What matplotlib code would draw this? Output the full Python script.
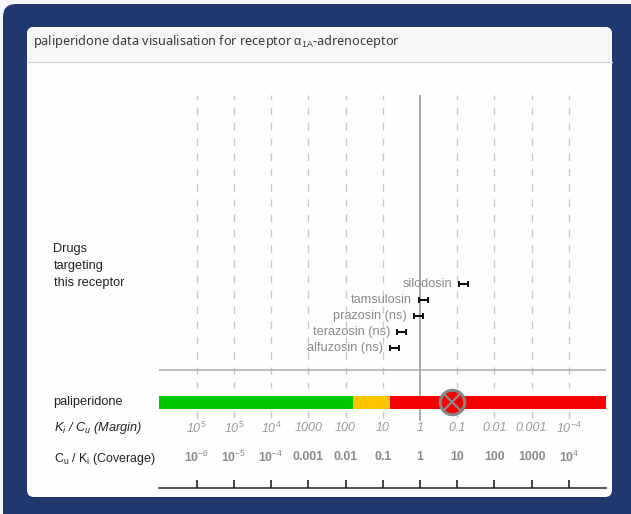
"""Paliperidone margin / coverage chart for the alpha-1A adrenoceptor."""

import matplotlib
matplotlib.use("Agg")
import matplotlib.pyplot as plt
from matplotlib.patches import FancyBboxPatch, Rectangle

# all x values are log10(Cu / Ki)
TICKS = [-6, -5, -4, -3, -2, -1, 0, 1, 2, 3, 4]
MARGIN_LABELS = ["10$^{5}$", "10$^{5}$", "10$^{4}$", "1000", "100", "10", "1", "0.1", "0.01", "0.001", "10$^{-4}$"]
COVERAGE_LABELS = ["10$^{-6}$", "10$^{-5}$", "10$^{-4}$", "0.001", "0.01", "0.1", "1", "10", "100", "1000", "10$^{4}$"]

DRUGS = ["silodosin", "tamsulosin", "prazosin (ns)", "terazosin (ns)", "alfuzosin (ns)"]
DRUG_LOW = [1.05, -0.02, -0.16, -0.62, -0.81]
DRUG_HIGH = [1.29, 0.21, 0.09, -0.38, -0.56]

SEGMENT_EDGES = [-7.0, -1.8, -0.8, 5.0]
SEGMENT_COLORS = ["#00c800", "#fdc500", "#f50000"]
PALIPERIDONE = 0.86

NAVY = "#21386f"
GREY_TEXT = "#8a8a8a"
LABEL_SIZE = 9.15
W, H = 631, 514

plt.rcParams["font.family"] = ["Liberation Sans", "DejaVu Sans"]
plt.rcParams["mathtext.fontset"] = "custom"
plt.rcParams["mathtext.rm"] = "Liberation Sans"
plt.rcParams["mathtext.it"] = "Liberation Sans:italic"
plt.rcParams["mathtext.bf"] = "Liberation Sans:bold"

fig = plt.figure(figsize=(W / 100, H / 100), dpi=100, facecolor="#f6f5fa")

# page furniture in pixel coordinates
bg = fig.add_axes([0, 0, 1, 1])
bg.set_xlim(0, W)
bg.set_ylim(H, 0)
bg.axis("off")
bg.add_patch(FancyBboxPatch((3, 4), W + 30, H + 30, boxstyle="round,pad=0,rounding_size=13",
                            fc=NAVY, ec="none"))
bg.add_patch(FancyBboxPatch((27, 27), 585, 470, boxstyle="round,pad=0,rounding_size=7",
                            fc="#fefefe", ec="none"))
bg.add_patch(FancyBboxPatch((27, 27), 585, 60, boxstyle="round,pad=0,rounding_size=7",
                            fc="#f6f6f6", ec="none"))
bg.add_patch(Rectangle((27, 61), 585, 32, fc="#fefefe", ec="none"))
bg.plot([27, 612], [61.5, 61.5], color="#d6d6d6", lw=1)

bg.text(33, 41, r"paliperidone data visualisation for receptor $\mathrm{\alpha_{1A}}$-adrenoceptor",
        family=["Noto Sans", "DejaVu Sans"], fontsize=9.15, color="#3a3a3a", va="center")
for y, line in zip([249, 266, 283], ["Drugs", "targeting", "this receptor"]):
    bg.text(53.5, y, line, fontsize=LABEL_SIZE, color="#222222", va="center")
bg.text(53.5, 402.5, "paliperidone", fontsize=LABEL_SIZE, color="#222222", va="center")
bg.text(53.5, 428.5, "$K_i$ / $C_u$ (Margin)", fontsize=LABEL_SIZE, style="italic", color="#222222", va="center")
bg.text(53.5, 459, r"C$_\mathrm{u}$ / K$_\mathrm{i}$ (Coverage)", fontsize=8.95, color="#222222", va="center")

# chart axes: x spans the bar, y is kept in pixels from the top
ax = fig.add_axes([159.5 / W, 1 - 487.5 / H, 446.5 / W, 392.5 / H])
ax.patch.set_alpha(0)
ax.set_xlim(SEGMENT_EDGES[0], SEGMENT_EDGES[-1])
ax.set_ylim(487.5, 95)
for spine in ["top", "left", "right"]:
    ax.spines[spine].set_visible(False)
ax.spines["bottom"].set_linewidth(1.1)
ax.spines["bottom"].set_color("#222222")
ax.set_yticks([])
ax.set_xticks(TICKS)
ax.set_xticklabels([])
ax.tick_params(axis="x", direction="in", length=6, width=1.1, color="#111111")

for t in TICKS:
    if t == 0:
        continue
    ax.vlines(t, 95, 388, color="#c9c9c9", lw=1, linestyles=(2.2, (5.4, 5.6)))
    ax.vlines(t, 411, 418, color="#c9c9c9", lw=1)
ax.vlines(0, 95, 421, color="#a9a9a9", lw=1.4)
ax.hlines(369.5, SEGMENT_EDGES[0], SEGMENT_EDGES[-1], color="#ababab", lw=1.1)

# drugs on the receptor
for i, name in enumerate(DRUGS):
    y = 283.5 + 16 * i
    mid = (DRUG_LOW[i] + DRUG_HIGH[i]) / 2
    half = (DRUG_HIGH[i] - DRUG_LOW[i]) / 2
    ax.errorbar(mid, y, xerr=half, color="#111111", lw=1.5, capsize=2.4, capthick=1.4)
    ax.annotate(name, (DRUG_LOW[i], y), xytext=(-5, -0.7), textcoords="offset points",
                ha="right", va="center", fontsize=LABEL_SIZE, color=GREY_TEXT)

# margin bar
for left, right, color in zip(SEGMENT_EDGES[:-1], SEGMENT_EDGES[1:], SEGMENT_COLORS):
    ax.barh(402.2, right - left, left=left, height=13, color=color, zorder=3)
ax.plot(PALIPERIDONE, 402.2, "o", ms=17.6, mfc="#f50000", mec="#868686", mew=2.2, zorder=4)
ax.plot(PALIPERIDONE, 402.2, "x", ms=13, mec="#8c8c8c", mew=1.6, zorder=5)

for t, margin, coverage in zip(TICKS, MARGIN_LABELS, COVERAGE_LABELS):
    ax.text(t, 428, margin, ha="center", va="center", fontsize=9, style="italic", color="#9a9a9a")
    ax.text(t, 457, coverage, ha="center", va="center", fontsize=8.8, fontweight="bold", color="#8a8a8a")

fig.savefig("out.png", dpi=100, facecolor=fig.get_facecolor())
plt.close("all")
